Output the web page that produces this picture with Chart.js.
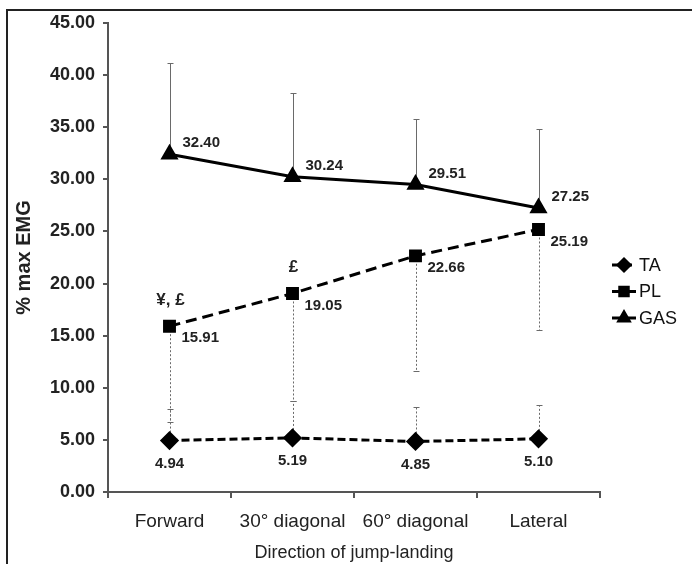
<!DOCTYPE html>
<html>
<head>
<meta charset="utf-8">
<script src="https://cdn.jsdelivr.net/npm/chart.js@4"></script>
<style>
    body { margin: 0; background: #fff; }
    #wrap { position: relative; width: 692px; height: 564px; }
    #frame { position: absolute; left: 6px; top: 9px; width: 686px; height: 555px;
             border-top: 2px solid #222; border-left: 2px solid #222; pointer-events: none; }
</style>
</head>
<body>
<div id="wrap">
    <canvas id="emgChart" width="692" height="564"></canvas>
    <div id="frame"></div>
</div>
<script>
const categories = ['Forward', '30° diagonal', '60° diagonal', 'Lateral'];
const taMeans = [4.94, 5.19, 4.85, 5.10];
const plMeans = [15.91, 19.05, 22.66, 25.19];
const gasMeans = [32.40, 30.24, 29.51, 27.25];
// error bar lengths (TA and GAS go up, PL goes down)
const taSD = [3.06, 3.5, 3.3, 3.25];
const plSD = [9.2, 10.35, 11.06, 9.6];
const gasSD = [8.8, 8.06, 6.3, 7.55];
// significance marks above the PL points
const plMarks = ['¥, £', '£', '', ''];
const yMin = 0, yMax = 45, yStep = 5;

const FONT = '"Liberation Sans", Arial, sans-serif';
Chart.defaults.font.family = FONT;

// vertical one-sided error bars
const errorBars = {
    id: 'errorBars',
    beforeDatasetsDraw(chart) {
        const ctx = chart.ctx;
        const y = chart.scales.y;
        chart.data.datasets.forEach((ds, i) => {
            const meta = chart.getDatasetMeta(i);
            meta.data.forEach((pt, j) => {
                const x = Math.round(pt.x) + 0.5;
                const end = Math.round(y.getPixelForValue(ds.data[j] + ds.errDir * ds.errors[j])) + 0.5;
                ctx.save();
                ctx.strokeStyle = '#6a6a6a';
                ctx.lineWidth = 1;
                ctx.setLineDash(ds.errDash);
                ctx.beginPath();
                ctx.moveTo(x, pt.y);
                ctx.lineTo(x, end);
                ctx.stroke();
                ctx.setLineDash([]);
                ctx.beginPath();
                ctx.moveTo(x - 3, end);
                ctx.lineTo(x + 3, end);
                ctx.stroke();
                ctx.restore();
            });
        });
    }
};

// value labels next to every point + significance marks
const valueLabels = {
    id: 'valueLabels',
    afterDatasetsDraw(chart) {
        const ctx = chart.ctx;
        ctx.save();
        ctx.fillStyle = '#222';
        ctx.font = 'bold 15px ' + FONT;
        ctx.textBaseline = 'middle';
        chart.data.datasets.forEach((ds, i) => {
            const meta = chart.getDatasetMeta(i);
            meta.data.forEach((pt, j) => {
                const txt = ds.data[j].toFixed(2);
                if (ds.labelPos === 'below') {
                    ctx.textAlign = 'center';
                    ctx.fillText(txt, pt.x, pt.y + 23);
                } else if (ds.labelPos === 'rightBelow') {
                    ctx.textAlign = 'left';
                    ctx.fillText(txt, pt.x + 12, pt.y + 12);
                } else {
                    ctx.textAlign = 'left';
                    ctx.fillText(txt, pt.x + 13, pt.y - 11);
                }
                if (ds.marks && ds.marks[j]) {
                    ctx.textAlign = 'center';
                    ctx.font = 'bold 17px ' + FONT;
                    ctx.fillText(ds.marks[j], pt.x + 1, pt.y - 26);
                    ctx.font = 'bold 15px ' + FONT;
                }
            });
        });
        ctx.restore();
    }
};

// legend on the right: short line + marker + name
const sideLegend = {
    id: 'sideLegend',
    afterDraw(chart) {
        const ctx = chart.ctx;
        const x0 = chart.chartArea.right + 12;
        let yy = chart.chartArea.top + 242;
        chart.data.datasets.forEach(ds => {
            ctx.save();
            ctx.strokeStyle = '#000';
            ctx.fillStyle = '#000';
            ctx.lineWidth = 3;
            ctx.setLineDash(ds.borderDash || []);
            ctx.beginPath();
            ctx.moveTo(x0, yy);
            ctx.lineTo(x0 + 24, yy);
            ctx.stroke();
            ctx.setLineDash([]);
            Chart.helpers.drawPoint(ctx, { pointStyle: ds.pointStyle, radius: 6, rotation: 0, borderWidth: 1 }, x0 + 12, yy);
            ctx.fillStyle = '#111';
            ctx.font = '18px ' + FONT;
            ctx.textAlign = 'left';
            ctx.textBaseline = 'middle';
            ctx.fillText(ds.label, x0 + 27, yy + 1);
            ctx.restore();
            yy += 26.5;
        });
    }
};

new Chart(document.getElementById('emgChart'), {
    type: 'line',
    data: {
        labels: categories,
        datasets: [
            {
                label: 'TA', data: taMeans, errors: taSD, errDir: 1, errDash: [2, 2], labelPos: 'below',
                borderColor: '#000', backgroundColor: '#000', borderWidth: 3, borderDash: [8, 4],
                pointStyle: 'rectRot', pointRadius: 7.5, pointBackgroundColor: '#000', pointBorderColor: '#000'
            },
            {
                label: 'PL', data: plMeans, errors: plSD, errDir: -1, errDash: [2, 2], labelPos: 'rightBelow', marks: plMarks,
                borderColor: '#000', backgroundColor: '#000', borderWidth: 3, borderDash: [11, 6],
                pointStyle: 'rect', pointRadius: 7, pointBackgroundColor: '#000', pointBorderColor: '#000'
            },
            {
                label: 'GAS', data: gasMeans, errors: gasSD, errDir: 1, errDash: [], labelPos: 'rightAbove',
                borderColor: '#000', backgroundColor: '#000', borderWidth: 3,
                pointStyle: 'triangle', pointRadius: 7.5, pointBackgroundColor: '#000', pointBorderColor: '#000'
            }
        ]
    },
    options: {
        responsive: false,
        animation: false,
        devicePixelRatio: 1,
        layout: { padding: { left: 8, right: 92, top: 23, bottom: 0 } },
        plugins: {
            legend: { display: false },
            tooltip: { enabled: false }
        },
        scales: {
            x: {
                offset: true,
                grid: { offset: true, drawOnChartArea: false, tickLength: 6, color: '#555', lineWidth: 2 },
                border: { color: '#555', width: 2 },
                ticks: { padding: 12, color: '#222', font: { size: 19 } },
                title: { display: true, text: 'Direction of jump-landing', color: '#222', font: { size: 18 }, padding: { top: 2, bottom: 0 } },
                afterFit(scale) { scale.height = 72; }
            },
            y: {
                min: yMin,
                max: yMax,
                ticks: { stepSize: yStep, padding: 8, color: '#222', font: { size: 18, weight: 'bold' }, callback: v => v.toFixed(2) },
                grid: { drawOnChartArea: false, tickLength: 5, color: '#555', lineWidth: 2 },
                border: { color: '#555', width: 2 },
                title: { display: true, text: '% max EMG', color: '#222', font: { size: 20, weight: 'bold' }, padding: { top: 4, bottom: 0 } },
                afterFit(scale) { scale.width = 100; }
            }
        }
    },
    plugins: [errorBars, valueLabels, sideLegend]
});
</script>
</body>
</html>
